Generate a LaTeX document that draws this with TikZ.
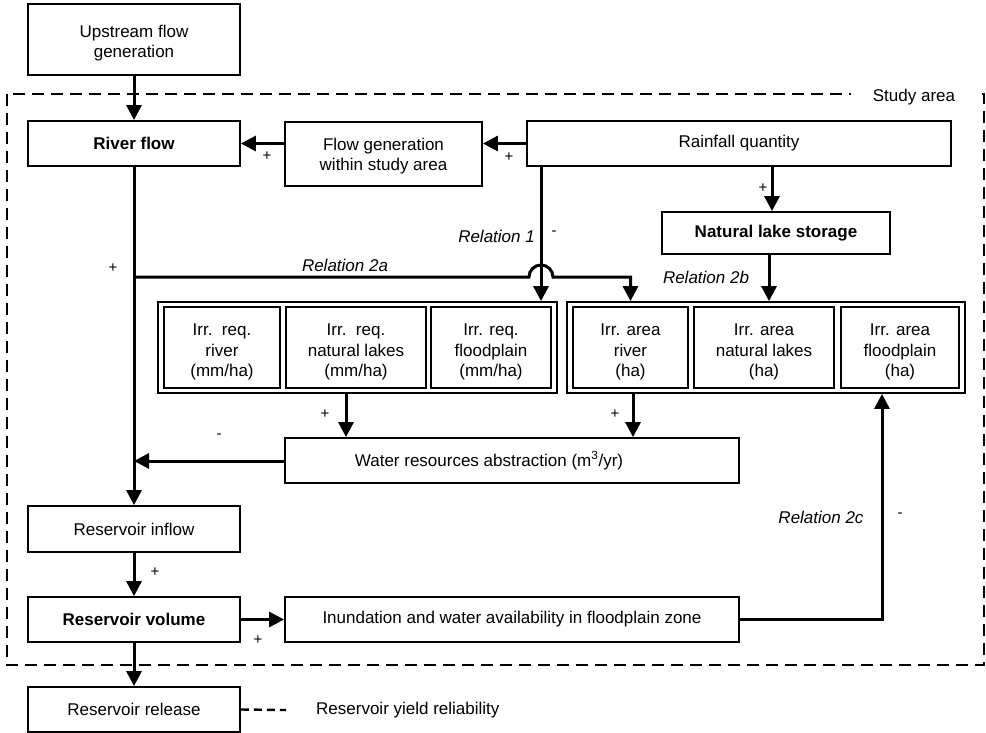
\documentclass[tikz,border=0pt]{standalone}
\usepackage{fontspec}
\setmainfont{Liberation Sans}
\usetikzlibrary{arrows.meta}
\begin{document}
\begin{tikzpicture}[x=1pt,y=1pt,
  box/.style={draw,line width=1.8pt,inner sep=0pt,align=center,font=\fontsize{17}{20.5}\selectfont},
  arr/.style={line width=3pt,-{Triangle[length=15pt,width=15pt]}},
  lbl/.style={font=\fontsize{17}{20}\selectfont,inner sep=0pt},
  rel/.style={font=\fontsize{17}{20}\selectfont\itshape,inner sep=0pt},
  sgn/.style={font=\fontsize{15}{18}\selectfont,inner sep=0pt}]
\useasboundingbox (0,0) rectangle (986,-732);
% study area
\draw[line width=1.6pt,dash pattern=on 12pt off 7pt] (7,-94) rectangle (984,-665);
\node[lbl,fill=white,inner xsep=22pt,inner ysep=3pt] (study) at (914,-97) {Study area};
% boxes
\node[box,minimum width=212pt,minimum height=71pt] (up) at (134,-39.5) {\rule{0pt}{20pt}Upstream flow\\generation};
\node[box,minimum width=212pt,minimum height=45pt] (river) at (134,-143.5) {\bfseries River flow};
\node[box,minimum width=197pt,minimum height=64pt] (flowgen) at (383.5,-154) {\rule{0pt}{17pt}Flow generation\\within study area};
\node[box,minimum width=424pt,minimum height=45pt] (rain) at (739,-143.5) {Rainfall quantity};
\node[box,minimum width=228pt,minimum height=42pt] (lake) at (776,-233) {\bfseries Natural lake storage};
\node[box,minimum width=399pt,minimum height=91pt] (reqgrp) at (357.5,-347.5) {};
\node[box,minimum width=116pt,minimum height=81pt] (req1) at (222,-347.5) {\rule{0pt}{21pt}Irr.\ \ req.\\river\\(mm/ha)};
\node[box,minimum width=140pt,minimum height=81pt] (req2) at (356,-347.5) {\rule{0pt}{21pt}Irr.\ \ req.\\natural lakes\\(mm/ha)};
\node[box,minimum width=120pt,minimum height=81pt] (req3) at (491,-347.5) {\rule{0pt}{21pt}Irr. req.\\floodplain\\(mm/ha)};
\node[box,minimum width=398pt,minimum height=91pt] (areagrp) at (766,-347.5) {};
\node[box,minimum width=115pt,minimum height=81pt] (area1) at (630.5,-347.5) {\rule{0pt}{21pt}Irr. area\\river\\(ha)};
\node[box,minimum width=140pt,minimum height=81pt] (area2) at (764,-347.5) {\rule{0pt}{21pt}Irr. area\\natural lakes\\(ha)};
\node[box,minimum width=118pt,minimum height=81pt] (area3) at (900,-347.5) {\rule{0pt}{21pt}Irr. area\\floodplain\\(ha)};
\node[box,minimum width=454pt,minimum height=45pt] (wra) at (512,-460.5) {Water resources abstraction (m\textsuperscript{3}/yr)\hspace*{46pt}};
\node[box,minimum width=212pt,minimum height=46pt] (inflow) at (134,-529) {Reservoir inflow};
\node[box,minimum width=212pt,minimum height=45pt] (volume) at (134,-619.5) {\bfseries Reservoir volume};
\node[box,minimum width=454pt,minimum height=45pt] (inund) at (512,-619.5) {Inundation and water availability in floodplain zone};
\node[box,minimum width=212pt,minimum height=45pt] (release) at (134,-709.5) {Reservoir release};
\node[lbl,anchor=west] (yield) at (316,-710) {Reservoir yield reliability};
% helper coordinates
\coordinate (j2a) at (134,-277);
\coordinate (hopL) at (529,-277);
\coordinate (r1) at (541,0);
\coordinate (rl) at (772,0);
\coordinate (ql) at (769,0);
\coordinate (a1) at (346,0);
\coordinate (a2) at (633,0);
\coordinate (c2) at (882,0);
\coordinate (jw) at (134,-461);
\coordinate (dl) at (286,0);
% connectors
\draw[arr] (up) -- (river);
\draw[arr] (flowgen.west |- river.east) -- (river.east);
\draw[arr] (rain.west) -- (flowgen.east |- rain.west);
\draw[arr] (rain.south -| rl) -- (lake.north -| rl);
\draw[arr] (lake.south -| ql) -- (areagrp.north -| ql);
\draw[arr] (rain.south -| r1) -- (reqgrp.north -| r1);
\draw[arr] (river.south) -- (inflow.north);
\draw[arr] (j2a) -- (hopL) arc(180:0:12) -| (areagrp.north -| area1.north);
\draw[arr] (reqgrp.south -| a1) -- (wra.north -| a1);
\draw[arr] (areagrp.south -| a2) -- (wra.north -| a2);
\draw[arr] (wra.west |- jw) -- (jw);
\draw[arr] (inflow) -- (volume);
\draw[arr] (volume) -- (inund);
\draw[arr] (volume) -- (release);
\draw[arr] (inund.east) -| (areagrp.south -| c2);
\draw[line width=2.4pt,dash pattern=on 8pt off 5pt] (release.east) -- (yield.west -| dl);
% labels
\node[sgn] at (267,-156) {+};
\node[sgn] at (509,-157) {+};
\node[sgn] at (763,-188) {+};
\node[rel,anchor=east] at (535,-236) {Relation 1};
\node[sgn] at (554,-233) {-};
\node[rel] at (345,-265) {Relation 2a};
\node[sgn] at (113,-268) {+};
\node[rel] at (706,-277) {Relation 2b};
\node[sgn] at (325,-414) {+};
\node[sgn] at (615,-414) {+};
\node[sgn] at (219,-436) {-};
\node[rel] at (821,-517) {Relation 2c};
\node[sgn] at (900,-515) {-};
\node[sgn] at (155,-572) {+};
\node[sgn] at (258,-640) {+};
\end{tikzpicture}
\end{document}
